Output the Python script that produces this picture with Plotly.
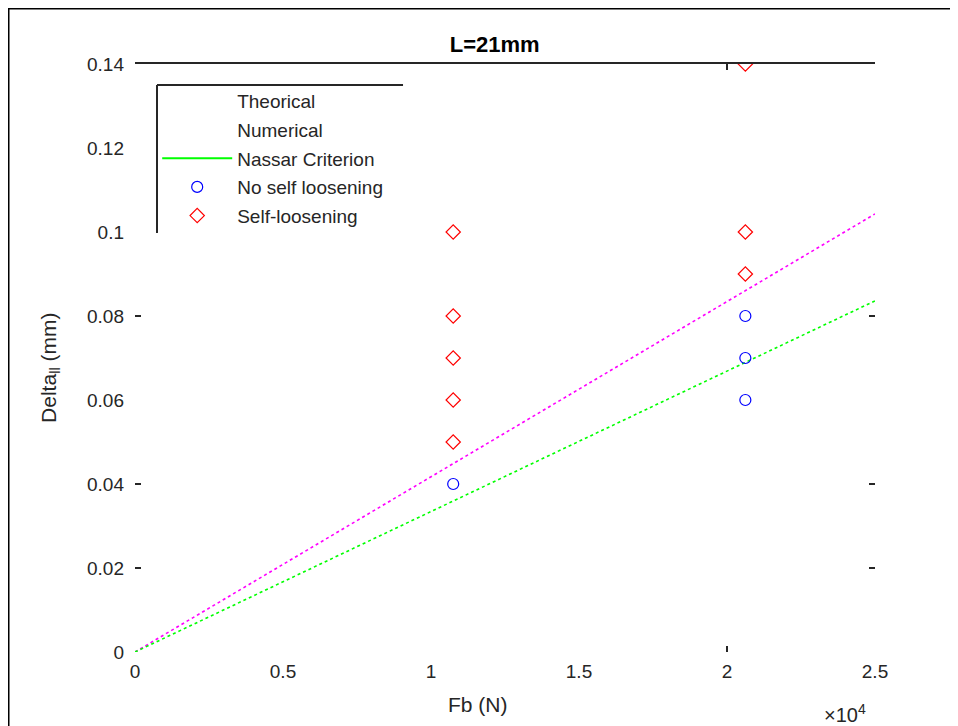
import plotly.graph_objects as go

# ---- data ----
fb_line = [0, 25000]
delta_numerical = [0, 0.1043]
delta_nassar = [0, 0.0836]

fb_no_loos = [10750, 20620, 20620, 20620]
delta_no_loos = [0.04, 0.08, 0.07, 0.06]

fb_loos = [10750, 10750, 10750, 10750, 10750, 20620, 20620, 20620]
delta_loos = [0.10, 0.08, 0.07, 0.06, 0.05, 0.14, 0.10, 0.09]

x_ticks = [0, 5000, 10000, 15000, 20000, 25000]
x_tick_labels = ["0", "0.5", "1", "1.5", "2", "2.5"]
y_ticks = [0, 0.02, 0.04, 0.06, 0.08, 0.10, 0.12, 0.14]
y_tick_labels = ["0", "0.02", "0.04", "0.06", "0.08", "0.1", "0.12", "0.14"]
x_visible_tick_marks = [20000]
y_visible_tick_marks = [0.02, 0.04, 0.08]

FONT = "Liberation Sans, Arial, sans-serif"
TXT = "#262626"
XR = [0, 25000]
YR = [0, 0.14]

fig = go.Figure()

# plotted lines (dotted)
fig.add_trace(go.Scatter(x=fb_line, y=delta_numerical, mode="lines",
                         line=dict(color="#ff00ff", width=1.6, dash="dot"),
                         showlegend=False))
fig.add_trace(go.Scatter(x=fb_line, y=delta_nassar, mode="lines",
                         line=dict(color="#00ff00", width=1.6, dash="dot"),
                         showlegend=False))

# legend entries
fig.add_trace(go.Scatter(x=[None], y=[None], mode="lines", name="Theorical",
                         line=dict(color="rgba(255,255,255,0)", width=1.5),
                         legendgroup="a"))
fig.add_trace(go.Scatter(x=[None], y=[None], mode="lines", name="Numerical",
                         line=dict(color="rgba(255,255,255,0)", width=1.5),
                         legendgroup="b"))
fig.add_trace(go.Scatter(x=[None], y=[None], mode="lines", name="Nassar Criterion",
                         line=dict(color="#00ff00", width=2),
                         legendgroup="c"))

fig.add_trace(go.Scatter(x=fb_no_loos, y=delta_no_loos, mode="markers",
                         name="No self loosening", legendgroup="d",
                         marker=dict(symbol="circle-open", size=11, color="#0000ff",
                                     line=dict(width=1.2, color="#0000ff"))))
fig.add_trace(go.Scatter(x=fb_loos, y=delta_loos, mode="markers",
                         name="Self-loosening", legendgroup="e",
                         marker=dict(symbol="diamond-open", size=11, color="#ff0000",
                                     line=dict(width=1.2, color="#ff0000"))))

# dummy traces for the auxiliary axes (top line, tick marks)
fig.add_trace(go.Scatter(x=[None], y=[None], xaxis="x2", yaxis="y", showlegend=False))
fig.add_trace(go.Scatter(x=[None], y=[None], xaxis="x3", yaxis="y", showlegend=False))
fig.add_trace(go.Scatter(x=[None], y=[None], xaxis="x", yaxis="y2", showlegend=False))
fig.add_trace(go.Scatter(x=[None], y=[None], xaxis="x", yaxis="y3", showlegend=False))

aux = dict(showticklabels=False, ticks="inside", ticklen=6, tickwidth=1.5,
           tickcolor="#262626", showgrid=False, zeroline=False)

fig.update_layout(
    width=950, height=720,
    margin=dict(l=127, r=83, t=56, b=76, pad=0),
    paper_bgcolor="white", plot_bgcolor="white",
    font=dict(family=FONT, size=19, color=TXT),
    showlegend=True,
    legend=dict(x=0.030, y=0.9695, xanchor="left", yanchor="top",
                bgcolor="rgba(255,255,255,0)", borderwidth=0,
                traceorder="grouped", tracegroupgap=1, itemwidth=70,
                font=dict(family=FONT, size=19, color=TXT)),
    xaxis=dict(range=XR, tickvals=x_ticks, ticktext=x_tick_labels,
               ticks="", showline=False, showgrid=False, zeroline=False,
               ticklabelstandoff=6,
               tickfont=dict(size=19, color=TXT)),
    xaxis2=dict(range=XR, overlaying="x", side="top", tickvals=x_visible_tick_marks,
                showline=True, linecolor="#262626", linewidth=2, **aux),
    xaxis3=dict(range=XR, overlaying="x", side="bottom", tickvals=x_visible_tick_marks,
                showline=False, **aux),
    yaxis=dict(range=YR, tickvals=y_ticks, ticktext=y_tick_labels,
               ticks="", showline=False, showgrid=False, zeroline=False,
               ticklabelstandoff=10,
               tickfont=dict(size=19, color=TXT)),
    yaxis2=dict(range=YR, overlaying="y", side="left", tickvals=y_visible_tick_marks,
                showline=False, **aux),
    yaxis3=dict(range=YR, overlaying="y", side="right", tickvals=y_visible_tick_marks,
                showline=False, **aux),
    title=dict(text="<b>L=21mm</b>", x=0.486, xanchor="center", xref="paper",
               y=1 - 36 / 720, yref="container", yanchor="middle",
               font=dict(family=FONT, size=22, color="#000000")),
)

# axis titles
fig.add_annotation(text="Fb (N)", xref="paper", yref="paper",
                   x=0.4635, y=-0.090, xanchor="center", yanchor="middle",
                   showarrow=False, font=dict(family=FONT, size=21, color=TXT))
fig.add_annotation(text="Delta<sub>ll</sub> (mm)", xref="paper", yref="paper",
                   x=-0.115, y=0.483, xanchor="center", yanchor="middle", textangle=-90,
                   showarrow=False, font=dict(family=FONT, size=21, color=TXT))

# x10^4 exponent label
fig.add_annotation(text="\u00d710<sup>4</sup>", xref="paper", yref="paper",
                   x=0.959, y=-0.105, xanchor="center", yanchor="middle",
                   showarrow=False, font=dict(family=FONT, size=20, color=TXT))

# legend box (top and left edges)
fig.add_shape(type="line", xref="paper", yref="paper", x0=0.0297, x1=0.3622,
              y0=0.9643, y1=0.9643, line=dict(color="#262626", width=2))
fig.add_shape(type="line", xref="paper", yref="paper", x0=0.0297, x1=0.0297,
              y0=0.9643, y1=0.7126, line=dict(color="#262626", width=2))

# outer figure frame (only the left and top edges are inside the picture)
fig.add_shape(type="line", xref="paper", yref="paper", x0=-0.1716, x1=-0.1716,
              y0=-0.3, y1=1.0952, line=dict(color="#000000", width=3))
fig.add_shape(type="line", xref="paper", yref="paper", x0=-0.1716, x1=1.3,
              y0=1.0952, y1=1.0952, line=dict(color="#000000", width=3))

fig.write_html("out.html")
